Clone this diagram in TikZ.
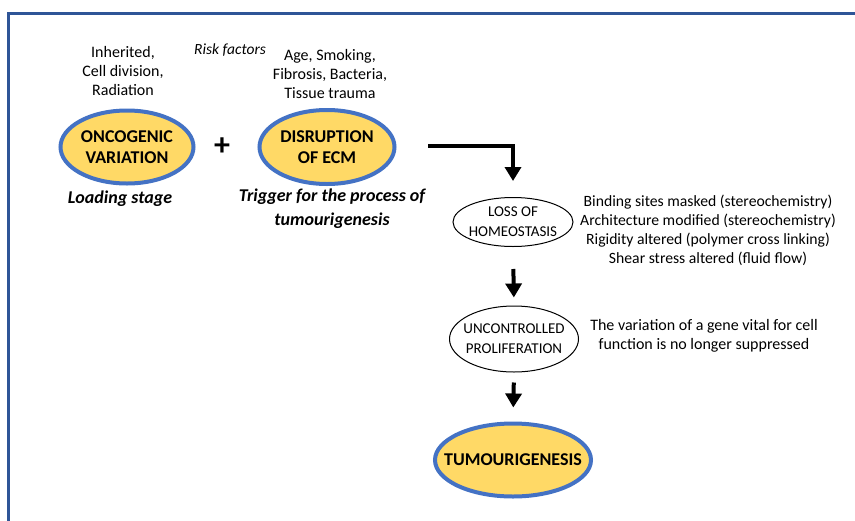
\documentclass[tikz,border=0pt]{standalone}
\usepackage{fontspec}
\setmainfont{Carlito}
\usetikzlibrary{shapes.geometric,arrows.meta}
\definecolor{frameblue}{HTML}{2F5597}
\definecolor{ringblue}{HTML}{4472C4}
\definecolor{ellfill}{HTML}{FFD966}
\tikzset{
  x=1pt, y=-1pt,
  bigell/.style={ellipse, draw=ringblue, line width=4pt, fill=ellfill, inner xsep=-30pt, inner ysep=-15pt,
    align=center, font=\fontsize{18}{21}\selectfont\bfseries},
  smallell/.style={ellipse, draw=black, line width=1pt, fill=white, inner xsep=-30pt, inner ysep=-15pt,
    align=center, font=\fontsize{15}{20}\selectfont},
  note/.style={align=center, font=\fontsize{16}{19}\selectfont},
  bignote/.style={align=center, font=\fontsize{18}{24}\selectfont\bfseries\itshape},
  flow/.style={line width=4pt, -{Triangle[width=16pt,length=14pt]}},
}
\begin{document}
\begin{tikzpicture}
\useasboundingbox (0,0) rectangle (855,520);
\fill[white] (0,0) rectangle (855,520);
\draw[frameblue, line width=3pt] (8.5,530) -- (8.5,13.5) -- (870,13.5);

\node[bigell, minimum width=133pt, minimum height=73pt] (onc) at (127,147) {ONCOGENIC\\VARIATION};
\node[bigell, minimum width=135pt, minimum height=74pt] (dis) at (327,147) {DISRUPTION\\OF ECM};
\node[font=\fontsize{32}{32}\selectfont\bfseries] (plus) at (222,147) {+};

\node[note] (inh) at (123,71) {Inherited,\\Cell division,\\Radiation};
\node[note, font=\fontsize{15.5}{19}\selectfont\itshape] (risk) at (230,50) {Risk factors};
\node[note] (age) at (330,74) {Age, Smoking,\\Fibrosis, Bacteria,\\Tissue trauma};

\node[bignote] (load) at (120,199) {Loading stage};
\node[bignote] (trig) at (332,209) {Trigger for the process of\\tumourigenesis};

\node[smallell, minimum width=120pt, minimum height=49pt] (loss) at (513,222) {LOSS OF\\HOMEOSTASIS};
\node[note, font=\fontsize{15.7}{19}\selectfont] (bind) at (708,230) {Binding sites masked (stereochemistry)\\Architecture modified (stereochemistry)\\Rigidity altered (polymer cross linking)\\Shear stress altered (fluid flow)};

\node[smallell, minimum width=129pt, minimum height=66pt] (unc) at (514,339) {UNCONTROLLED\\PROLIFERATION};
\node[note] (var) at (704,336) {The variation of a gene vital for cell\\function is no longer suppressed};

\node[bigell, minimum width=156pt, minimum height=73pt] (tum) at (513,460) {TUMOURIGENESIS};

\coordinate (start) at (428,146);
\draw[flow] (start) -| ([yshift=16pt]loss.north);
\draw[flow, shorten <=22pt, shorten >=8pt] (loss.south) -- (unc.north);
\draw[flow, shorten <=10pt, shorten >=14pt] (unc.south) -- (tum.north);
\end{tikzpicture}
\end{document}
